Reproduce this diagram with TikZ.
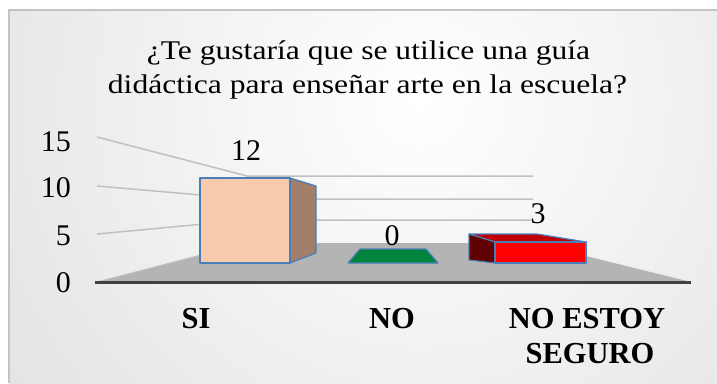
\documentclass[tikz,border=0pt]{standalone}
\usepackage{fontspec}
\setmainfont{Liberation Serif}
\definecolor{gridc}{RGB}{192,192,192}
\definecolor{floorc}{RGB}{180,180,180}
\definecolor{axisc}{RGB}{64,64,64}
\definecolor{edgec}{RGB}{74,126,187}
\definecolor{peach}{RGB}{248,203,173}
\definecolor{peachside}{RGB}{160,128,106}
\definecolor{greenbar}{RGB}{0,132,61}
\definecolor{redfront}{RGB}{255,0,0}
\definecolor{redtop}{RGB}{192,0,0}
\definecolor{redside}{RGB}{96,0,0}
\definecolor{framec}{RGB}{196,196,196}
\tikzset{
  gridln/.style={draw=gridc, line width=1.5pt},
  barface/.style={draw=edgec, line width=1.2pt, line join=round},
  lbl/.style={font=\fontsize{30}{32}\selectfont, anchor=base, inner sep=0pt},
  catlbl/.style={font=\fontsize{30.5}{34}\selectfont\bfseries, anchor=base, inner sep=0pt},
  ttl/.style={font=\fontsize{27}{32}\selectfont, anchor=base, inner sep=0pt}
}
\begin{document}
\begin{tikzpicture}[x=1pt,y=-1pt]
\useasboundingbox (0,0) rectangle (717,383);
\fill[white] (0,0) rectangle (717,383);
\begin{scope}
  \clip (9,10) rectangle (717,383);
  \shade[inner color=white, outer color=black!17] (-380,-700) rectangle (1220,900);
\end{scope}
\draw[framec, line width=1.5pt] (9,383) -- (9,10) -- (717,10);
% title
\node[ttl] (title1) at (368.5,59.5) {\scalebox{1.17}[1]{¿Te gustaría que se utilice una guía}};
\node[ttl] (title2) at (367.5,93) {\scalebox{1.17}[1]{didáctica para enseñar arte en la escuela?}};
% floor
\fill[floorc] (97,282) -- (691,282) -- (533,243) -- (247,243) -- cycle;
% walls / gridlines
\coordinate (f0) at (97,282); \coordinate (b0) at (247,243);
\coordinate (f5) at (97,234); \coordinate (b5) at (247,220);
\coordinate (f10) at (97,186); \coordinate (b10) at (247,199);
\coordinate (f15) at (97,137); \coordinate (b15) at (247,176);
\coordinate (e5) at (533,220); \coordinate (e10) at (533,199); \coordinate (e15) at (533,176);
\draw[gridln] (f5) -- (b5) -- (e5);
\draw[gridln] (f10) -- (b10) -- (e10);
\draw[gridln] (f15) -- (b15) -- (e15);
\draw[gridc, line width=1pt] (f0) -- (b0);
% axis line
\draw[axisc, line width=3pt] (95,282) -- (691,282);
% axis labels
\node[lbl, anchor=base east] (y15) at (71,151) {15};
\node[lbl, anchor=base east] (y10) at (71,197) {10};
\node[lbl, anchor=base east] (y5) at (71,245) {5};
\node[lbl, anchor=base east] (y0) at (71,292) {0};
% SI bar
\draw[barface, fill=peachside] (290,178) -- (316,186) -- (316,253) -- (290,263) -- cycle;
\draw[barface, fill=peach] (200,178) rectangle (290,263);
% NO bar
\draw[barface, fill=greenbar] (348,263) -- (438,263) -- (426,249) -- (360,249) -- cycle;
% NO ESTOY bar
\draw[barface, fill=redtop] (469,234) -- (537,234) -- (586,242) -- (495,242) -- cycle;
\draw[barface, fill=redside] (469,234) -- (495,242) -- (495,263) -- (469,260) -- cycle;
\draw[barface, fill=redfront] (495,242) rectangle (586,263);
% data labels
\node[lbl] (d12) at (246,160) {12};
\node[lbl] (d0) at (392,245) {0};
\node[lbl] (d3) at (538,223) {3};
% categories
\node[catlbl] (cSI) at (196,328) {SI};
\node[catlbl] (cNO) at (392,328) {NO};
\node[catlbl] (cNE1) at (587,328) {NO ESTOY};
\node[catlbl] (cNE2) at (590,363) {SEGURO};
\end{tikzpicture}
\end{document}
